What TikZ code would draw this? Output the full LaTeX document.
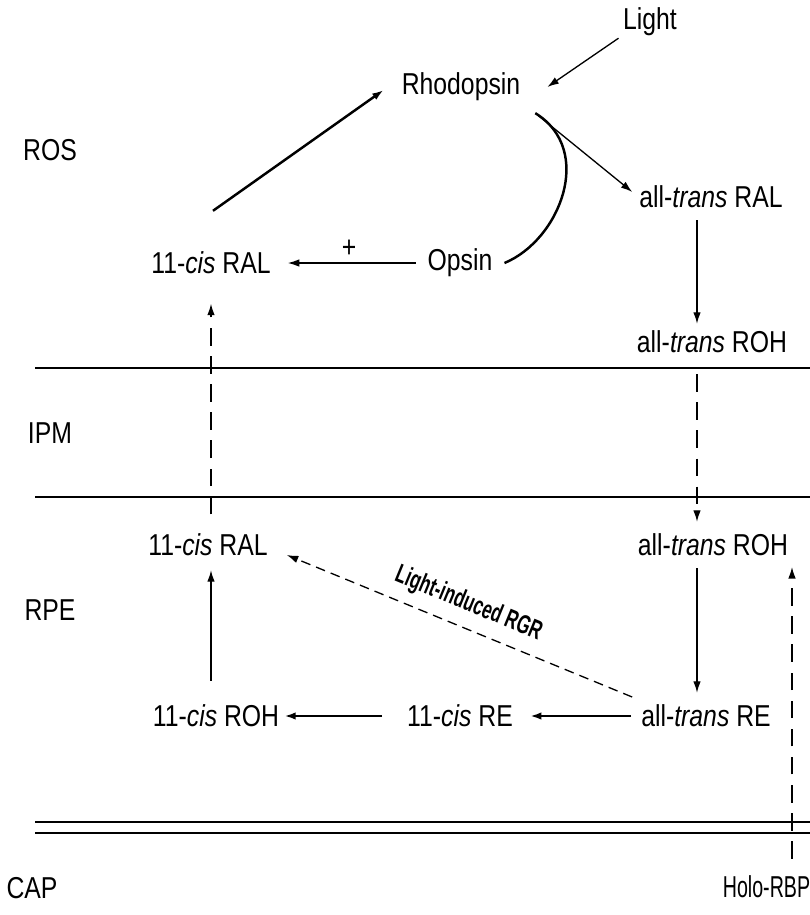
\documentclass[tikz,border=0pt]{standalone}
\usepackage{fontspec}
\setmainfont{Liberation Sans}[FakeStretch=0.82]
\newfontfamily\narrowfont{Liberation Sans}[FakeStretch=0.65]
\usetikzlibrary{arrows.meta}

\begin{document}
\begin{tikzpicture}[font=\fontsize{17.2}{19}\selectfont,
  every node/.style={inner sep=1pt},
  tip/.style={-{Latex[length=2.3mm,width=1.5mm]}},
  fine/.style={tip, line width=0.75pt},
  heavy/.style={tip, line width=1.4pt},
  longdash/.style={dash pattern=on 10pt off 6pt},
  membrane/.style={line width=0.9pt}]
  \useasboundingbox (0,0) rectangle (16.2,-18.3);

  % compartments and membranes
  \node (ros) at (1.0,-3.0) {ROS};
  \node (ipm) at (1.0,-8.66) {IPM};
  \node (rpe) at (1.0,-12.2) {RPE};
  \node (cap) at (0.64,-17.76) {CAP};
  \draw[membrane] (0.7,-7.36) -- (16.2,-7.36);
  \draw[membrane] (0.7,-9.94) -- (16.2,-9.94);
  \draw[membrane] (0.7,-16.44) -- (16.2,-16.44);
  \draw[membrane] (0.7,-16.66) -- (16.2,-16.66);

  % columns
  \coordinate (colL) at (4.22,0);
  \coordinate (colR) at (13.94,0);
  \coordinate (colB) at (15.84,0);

  % outer segment
  \node (light) at (13.0,-0.44) {Light};
  \node (rhod) at (9.22,-1.74) {Rhodopsin};
  \node (transral) at (14.22,-3.94) {all-\textit{trans} RAL};
  \node (cisralA) at (4.22,-5.26) {11-\textit{cis} RAL};
  \node (opsin) at (9.2,-5.26) {Opsin};
  \node (rohA) at (14.24,-6.84) {all-\textit{trans} ROH};
  \coordinate (bleach) at ([xshift=0.26cm,yshift=-0.2cm]rhod.south east);

  \draw[heavy] ([xshift=0.04cm,yshift=0.78cm]cisralA.north) -- ([xshift=-0.32cm,yshift=-0.06cm]rhod.west);
  \draw[fine] ([xshift=-0.05cm]light.south west) -- ([xshift=0.5cm]rhod.east);
  \draw[fine] (bleach) -- ([xshift=-0.1cm,yshift=0.1cm]transral.west);
  \draw[line width=1.4pt] ([xshift=0.2cm]opsin.east) .. controls (11.2,-4.8) and (11.9,-3.0) .. (bleach);
  \draw[fine, shorten <=0.2cm, shorten >=0.3cm] (opsin.west) -- (cisralA.east)
    node[pos=0.5, above=2pt] (plus) {+};
  \draw[fine, shorten <=0.2cm, shorten >=0.1cm] (colR |- transral.south) -- (colR |- rohA.north);

  % pigment epithelium
  \node (cisralB) at (4.16,-10.9) {11-\textit{cis} RAL};
  \node (rohB) at (14.26,-10.9) {all-\textit{trans} ROH};
  \node (cisroh) at (4.32,-14.32) {11-\textit{cis} ROH};
  \node (cisre) at (9.2,-14.32) {11-\textit{cis} RE};
  \node (transre) at (14.12,-14.32) {all-\textit{trans} RE};
  \node[font=\narrowfont\fontsize{17.2}{19}\selectfont] (holo) at (15.33,-17.74) {Holo-RBP};
  \coordinate (rbptop) at (15.84,-11.34);

  \draw[fine, longdash, shorten <=0.38cm, shorten >=0.2cm] (colR |- rohA.south) -- (colR |- rohB.north);
  \draw[fine, longdash, shorten <=0.35cm, shorten >=0.55cm] (colL |- cisralB.north) -- (colL |- cisralA.south);
  \draw[fine, shorten <=0.2cm, shorten >=0.2cm] (colR |- rohB.south) -- (colR |- transre.north);
  \draw[fine, shorten <=0.44cm, shorten >=0.24cm] (colL |- cisroh.north) -- (colL |- cisralB.south);
  \draw[heavy, shorten <=0.16cm, shorten >=0.3cm] (transre.west) -- (cisre.east);
  \draw[heavy, shorten <=0.46cm, shorten >=0.06cm] (cisre.west) -- (cisroh.east);
  \draw[fine, dash pattern=on 5.5pt off 3.5pt] ([xshift=-0.14cm,yshift=0.38cm]transre.west) -- ([xshift=0.34cm,yshift=-0.2cm]cisralB.east)
    node[midway, sloped, above=5pt, font=\narrowfont\bfseries\fontsize{15}{17}\selectfont] (rgr) {Light-induced RGR};
  \draw[fine, longdash, shorten <=0.3cm] (colB |- holo.north) -- (rbptop);
\end{tikzpicture}
\end{document}
